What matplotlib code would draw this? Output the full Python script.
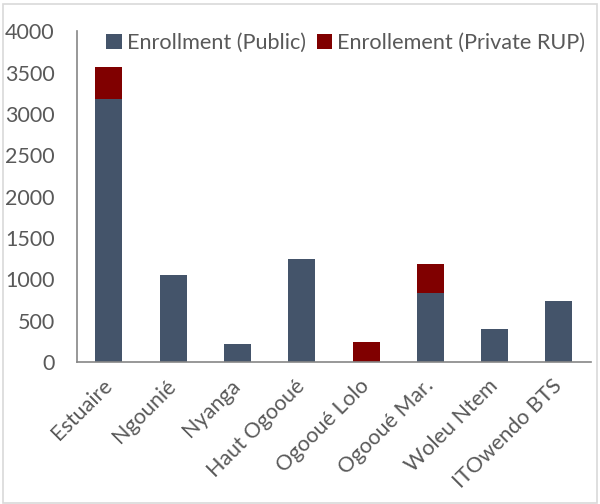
import numpy as np
import matplotlib.pyplot as plt
from matplotlib.patches import Rectangle

plt.rcParams['font.family'] = ['Lato', 'DejaVu Sans']

# Data
regions = ['Estuaire', 'Ngounié', 'Nyanga', 'Haut Ogooué', 'Ogooué Lolo',
           'Ogooué Mar.', 'Woleu Ntem', 'ITOwendo BTS']
public = [3180, 1050, 215, 1250, 0, 835, 400, 740]
private = [390, 0, 0, 0, 240, 350, 0, 0]

c_public = '#44546A'
c_private = '#800000'
txt = '#595959'

fig = plt.figure(figsize=(6.0, 5.04), dpi=100)
ax = fig.add_axes([0.128, 0.282, 0.857, 0.656])

x = np.arange(len(regions))
ax.bar(x, public, width=0.42, color=c_public, label='Enrollment (Public)')
ax.bar(x, private, width=0.42, bottom=public, color=c_private,
       label='Enrollement (Private RUP)')

ax.set_xlim(-0.5, len(regions) - 0.5)
ax.set_ylim(0, 4000)
ax.set_yticks(np.arange(0, 4001, 500))
ax.tick_params(axis='both', length=0, labelsize=15.5, colors=txt)
ax.tick_params(axis='y', pad=16)
ax.tick_params(axis='x', pad=15)
ax.set_xticks(x)
ax.set_xticklabels(regions, rotation=45, ha='right', va='center',
                   rotation_mode='anchor')

for s in ['top', 'right']:
    ax.spines[s].set_visible(False)
for s in ['left', 'bottom']:
    ax.spines[s].set_color('#868686')
    ax.spines[s].set_linewidth(1.2)

fig.legend(loc='upper left', bbox_to_anchor=(0.163, 0.952), ncol=2, frameon=False,
           fontsize=15.6, labelcolor=txt, handlelength=0.7, handleheight=0.7,
           handletextpad=0.25, columnspacing=0.5, borderaxespad=0)

# light frame around the chart
fig.patches.append(Rectangle((0.005, 0.002), 0.99, 0.99, transform=fig.transFigure,
                             fill=False, edgecolor='#d9d9d9', linewidth=1.2))

fig.savefig('out.png', dpi=100)
